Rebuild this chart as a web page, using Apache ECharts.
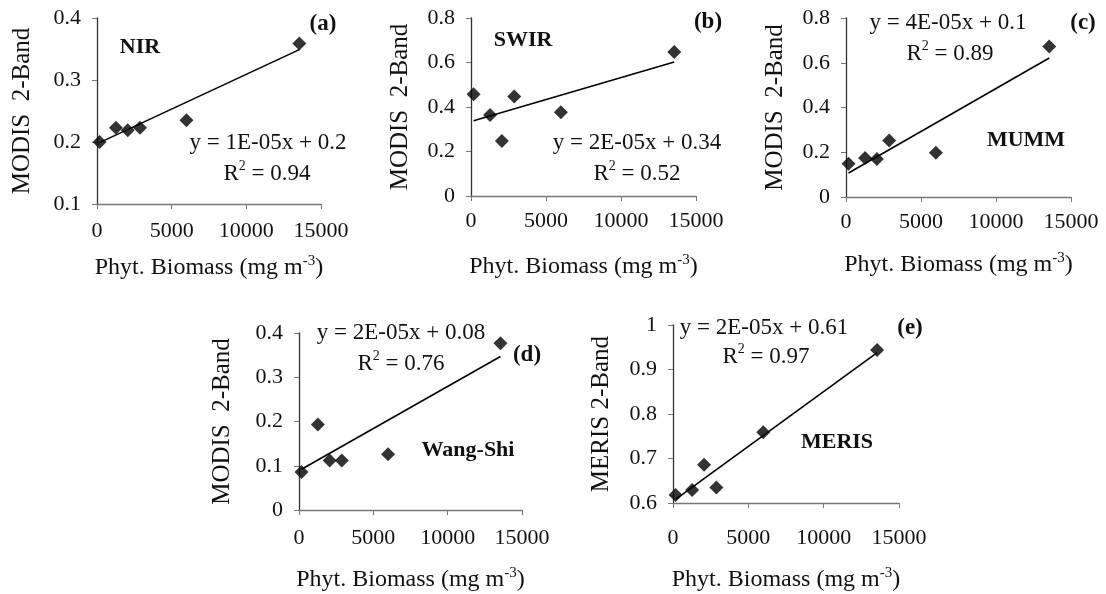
<!DOCTYPE html>
<html>
<head>
<meta charset="utf-8">
<script src="https://cdn.jsdelivr.net/npm/echarts@6/dist/echarts.min.js"></script>
<style>
html,body{margin:0;padding:0;background:#fff;}
#chart{width:1106px;height:594px;}
</style>
</head>
<body>
<div id="chart"></div>
<script>
// ---- data ----
var biomass = [170, 1270, 2060, 2880, 5990, 13550];
var nir     = [0.200, 0.223, 0.219, 0.223, 0.235, 0.359];
var swir    = [0.457, 0.364, 0.247, 0.447, 0.376, 0.647];
var mumm    = [0.149, 0.174, 0.170, 0.252, 0.198, 0.673];
var wangShi = [0.086, 0.193, 0.112, 0.112, 0.126, 0.377];
var meris   = [0.618, 0.629, 0.686, 0.635, 0.759, 0.944];

var trendX     = [170, 13550];
var trendNir   = [0.199, 0.349];
var trendSwir  = [0.338, 0.602];
var trendMumm  = [0.107, 0.621];
var trendWang  = [0.092, 0.347];
var trendMeris = [0.608, 0.938];

var xTicks = [0, 5000, 10000, 15000];
var panelNames = ['NIR', 'SWIR', 'MUMM', 'Wang-Shi', 'MERIS'];
var panelTags = ['(a)', '(b)', '(c)', '(d)', '(e)'];
var equations = ['y = 1E-05x + 0.2', 'y = 2E-05x + 0.34', 'y = 4E-05x + 0.1', 'y = 2E-05x + 0.08', 'y = 2E-05x + 0.61'];
var r2Values = ['0.94', '0.52', '0.89', '0.76', '0.97'];
var yTitles = ['MODIS  2-Band', 'MODIS  2-Band', 'MODIS  2-Band', 'MODIS  2-Band', 'MERIS 2-Band'];
var yRanges = [[0.1, 0.4, 0.1], [0, 0.8, 0.2], [0, 0.8, 0.2], [0, 0.4, 0.1], [0.6, 1, 0.1]];

var seriesValues = [nir, swir, mumm, wangShi, meris];
var trendValues = [trendNir, trendSwir, trendMumm, trendWang, trendMeris];

// ---- layout ----
var FONT = '"Liberation Serif", "Times New Roman", serif';
var grids = [
  {left: 97,  top: 18,  width: 224, height: 186},
  {left: 471, top: 18,  width: 225, height: 178},
  {left: 846, top: 18,  width: 225, height: 179},
  {left: 299, top: 333, width: 223, height: 177},
  {left: 673, top: 325, width: 226, height: 178}
];
var xNameGaps = [50, 57, 54, 56, 63];
var yNameGaps = [62, 58, 58, 64, 59];
var xLabelMargins = [16, 14, 14, 17, 24];

var yAxisColor = '#333';
var xAxisColor = '#777';

var xAxes = [], yAxes = [], series = [];
grids.forEach(function (g, i) {
  xAxes.push({
    type: 'value', gridIndex: i, min: xTicks[0], max: xTicks[xTicks.length - 1], interval: 5000,
    splitLine: {show: false},
    axisLine: {show: true, lineStyle: {color: xAxisColor, width: 1.3}},
    axisTick: {show: true, inside: false, length: 5, lineStyle: {color: xAxisColor}},
    axisLabel: {color: '#111', fontFamily: FONT, fontSize: 22, margin: xLabelMargins[i],
      formatter: function (v) { return String(v); }},
    name: '{t|Phyt. Biomass (mg m}{s|-3}{t|)}',
    nameLocation: 'middle', nameGap: xNameGaps[i],
    nameTextStyle: {
      rich: {
        t: {fontFamily: FONT, fontSize: 24, color: '#111', lineHeight: 26, verticalAlign: 'bottom'},
        s: {fontFamily: FONT, fontSize: 15, color: '#111', lineHeight: 26, verticalAlign: 'top', padding: [0, 0, 10, 0]}
      }
    }
  });
  var yr = yRanges[i];
  yAxes.push({
    type: 'value', gridIndex: i, min: yr[0], max: yr[1], interval: yr[2],
    splitLine: {show: false},
    axisLine: {show: true, lineStyle: {color: yAxisColor, width: 1.3}},
    axisTick: {show: true, inside: false, length: 5, lineStyle: {color: xAxisColor}},
    axisLabel: {color: '#111', fontFamily: FONT, fontSize: 22, margin: 16,
      formatter: function (v) { return String(Math.round(v * 10) / 10); }},
    name: yTitles[i], nameLocation: 'middle', nameGap: yNameGaps[i], nameRotate: 90,
    nameTextStyle: {fontFamily: FONT, fontSize: 25, color: '#111'}
  });
  var pts = biomass.map(function (b, k) { return [b, seriesValues[i][k]]; });
  series.push({
    type: 'scatter', xAxisIndex: i, yAxisIndex: i, data: pts,
    symbol: 'diamond', symbolSize: 14,
    itemStyle: {color: '#000'}, z: 3
  });
  var tr = trendX.map(function (x, k) { return [x, trendValues[i][k]]; });
  series.push({
    type: 'line', xAxisIndex: i, yAxisIndex: i, data: tr,
    symbol: 'none', lineStyle: {color: '#000', width: 1.6}, z: 2
  });
});

// text annotation anchors (pixel centres)
var namePos = [[140, 47], [523, 40], [1026, 140], [468, 450], [837, 442]];
var tagPos  = [[323, 24], [708, 22], [1083, 23], [527, 355], [910, 328]];
var eqPos   = [[268, 143], [637, 143], [948, 23], [401, 333], [764, 328]];
var r2Pos   = [[267, 172], [637, 172], [950, 52], [401, 362], [766, 355]];

var graphics = [];
for (var i = 0; i < 5; i++) {
  graphics.push({type: 'text', x: namePos[i][0], y: namePos[i][1], z: 10,
    style: {text: panelNames[i], fontFamily: FONT, fontSize: 22, fontWeight: 'bold', fill: '#111', align: 'center', verticalAlign: 'middle'}});
  graphics.push({type: 'text', x: tagPos[i][0], y: tagPos[i][1], z: 10,
    style: {text: panelTags[i], fontFamily: FONT, fontSize: 23, fontWeight: 'bold', fill: '#111', align: 'center', verticalAlign: 'middle'}});
  graphics.push({type: 'text', x: eqPos[i][0], y: eqPos[i][1], z: 10,
    style: {text: equations[i], fontFamily: FONT, fontSize: 23, fill: '#111', align: 'center', verticalAlign: 'middle'}});
  graphics.push({type: 'text', x: r2Pos[i][0], y: r2Pos[i][1], z: 10,
    style: {text: '{t|R}{s|2}{t| = ' + r2Values[i] + '}', align: 'center', verticalAlign: 'middle',
      rich: {
        t: {fontFamily: FONT, fontSize: 23, fill: '#111', lineHeight: 26, verticalAlign: 'bottom'},
        s: {fontFamily: FONT, fontSize: 14, fill: '#111', lineHeight: 26, verticalAlign: 'top', padding: [0, 0, 10, 0]}
      }}});
}

var chart = echarts.init(document.getElementById('chart'), null, {renderer: 'canvas'});
chart.setOption({
  animation: false,
  backgroundColor: '#fff',
  grid: grids,
  xAxis: xAxes,
  yAxis: yAxes,
  series: series,
  graphic: graphics
});
</script>
</body>
</html>
